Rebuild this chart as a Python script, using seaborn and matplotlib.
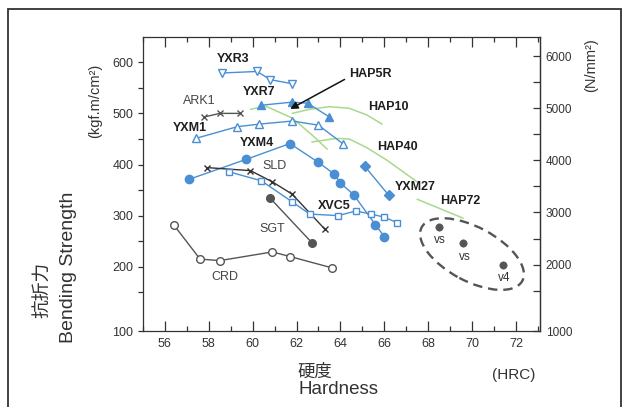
"""Bending strength vs hardness chart."""

import matplotlib
matplotlib.use("Agg")
import matplotlib.pyplot as plt
import matplotlib.transforms as mtransforms
from matplotlib.patches import Ellipse, Rectangle
from matplotlib.ticker import FixedLocator, MultipleLocator
import pandas as pd
import seaborn as sns

sns.set_theme(style="ticks")
plt.rcParams["font.family"] = ["Liberation Sans", "Noto Sans CJK JP", "DejaVu Sans"]

BLUE = "#4a8fd4"
GRAY = "#555555"
GREEN = "#a9d98b"
DARK = "#1e1e1e"

# DATA  (HRC, kgf/mm2)
yxr3_x = [58.6, 60.2, 60.8, 61.8]
yxr3_y = [579, 582, 566, 558]
ark1_x = [57.8, 58.5, 59.4]
ark1_y = [493, 500, 500]
yxr7_x = [60.4, 61.8, 62.5, 63.5]
yxr7_y = [516, 522, 520, 493]
yxm1_x = [57.4, 59.3, 60.3, 61.8, 63.0, 64.1]
yxm1_y = [451, 474, 479, 485, 477, 441]
yxm4_x = [57.1, 59.7, 61.7, 63.0, 63.7, 64.0, 64.6, 65.6, 66.0]
yxm4_y = [371, 410, 441, 404, 382, 364, 341, 282, 259]
sld_x = [57.9, 59.9, 60.9, 61.8, 63.3]
sld_y = [394, 388, 366, 342, 273]
xvc5_x = [58.9, 60.4, 61.8, 62.6, 63.9, 64.7, 65.4, 66.0, 66.6]
xvc5_y = [386, 368, 327, 303, 300, 309, 303, 297, 286]
sgt_x = [60.8, 62.7]
sgt_y = [334, 247]
crd_x = [56.4, 57.6, 58.5, 60.9, 61.7, 63.6]
crd_y = [282, 215, 212, 229, 220, 198]
yxm27_x = [65.1, 66.2]
yxm27_y = [397, 340]
vs_x = [68.5, 69.6, 71.4]
vs_y = [278, 246, 203]
vs_names = ["vs", "vs", "v4"]

hap5r_x = [59.9, 60.6, 61.8, 62.1, 62.7, 63.4]
hap5r_y = [508, 514, 491, 480, 458, 430]
hap10_x = [61.8, 62.6, 63.5, 64.4, 65.2, 65.9]
hap10_y = [500, 508, 513, 510, 497, 479]
hap40_x = [62.7, 63.8, 64.4, 65.2, 66.1, 67.5]
hap40_y = [444, 451, 450, 433, 409, 366]
hap72_x = [67.5, 69.6]
hap72_y = [332, 295]

# label name, x, y, bold
labels = [
    ("YXR3", 59.1, 606, True),
    ("YXR7", 60.3, 541, True),
    ("ARK1", 57.55, 524, False),
    ("YXM1", 57.15, 472, True),
    ("YXM4", 60.2, 442, True),
    ("SLD", 61.0, 397, False),
    ("HAP10", 66.2, 512, True),
    ("HAP40", 66.6, 434, True),
    ("YXM27", 67.4, 356, True),
    ("HAP72", 69.45, 328, True),
    ("XVC5", 63.7, 319, True),
    ("SGT", 60.9, 273, False),
    ("CRD", 58.75, 180, False),
]

YMIN, YMAX = 74.3, 650
XMIN, XMAX = 55, 73.1
N_PER_KGF = 9.8

fig = plt.figure(figsize=(6.26, 4.07), dpi=100)
ax = fig.add_axes([143 / 626, 1 - 331 / 407, (540 - 143) / 626, (331 - 36.7) / 407])


def draw(x, y, color, marker=None, filled=True, ms=6, lw=1.0):
    df = pd.DataFrame({"HRC": x, "strength": y})
    kw = {}
    if marker is not None:
        kw = dict(marker=marker, markersize=ms, markeredgecolor=color,
                  markerfacecolor=color if filled else "white", markeredgewidth=1.0)
    sns.lineplot(data=df, x="HRC", y="strength", ax=ax, color=color, linewidth=lw,
                 sort=False, estimator=None, legend=False, **kw)


# green HAP curves first (behind)
for hx, hy in [(hap5r_x, hap5r_y), (hap10_x, hap10_y), (hap40_x, hap40_y), (hap72_x, hap72_y)]:
    draw(hx, hy, GREEN, lw=1.1)

draw(yxr3_x, yxr3_y, BLUE, "v", filled=False, ms=6)
draw(ark1_x, ark1_y, GRAY, "x", ms=5)
draw(yxr7_x, yxr7_y, BLUE, "^", ms=6)
draw(yxm1_x, yxm1_y, BLUE, "^", filled=False, ms=6)
draw(yxm4_x, yxm4_y, BLUE, "o", ms=6)
draw(sld_x, sld_y, "#333333", "x", ms=5)
draw(xvc5_x, xvc5_y, BLUE, "s", filled=False, ms=5)
draw(sgt_x, sgt_y, GRAY, "o", ms=5.5)
draw(crd_x, crd_y, GRAY, "o", filled=False, ms=5.5)
draw(yxm27_x, yxm27_y, BLUE, "D", ms=5.5)

sns.scatterplot(x=vs_x, y=vs_y, ax=ax, color=GRAY, s=28, edgecolor=GRAY, legend=False, zorder=3)
for vx, vy, name in zip(vs_x, vs_y, vs_names):
    ax.text(vx + 0.05, vy - 26, name, fontsize=8.5, color="#333333", ha="center", va="center")

# dashed ellipse round the vs group
ell_trans = fig.dpi_scale_trans + mtransforms.ScaledTranslation(70.0, 224.8, ax.transData)
ax.add_patch(Ellipse((0, 0), width=1.14, height=0.54, angle=-28, transform=ell_trans,
                     fill=False, ec=GRAY, lw=1.7, ls=(0, (4, 2.5))))

for name, lx, ly, bold in labels:
    ax.text(lx, ly, name, fontsize=9, ha="center", va="center",
            fontweight="bold" if bold else "normal",
            color=DARK if bold else "#444444")

# HAP5R arrow
ax.annotate("", xy=(61.6, 506), xytext=(64.3, 569),
            arrowprops=dict(arrowstyle="-|>", color="#111111", lw=1.1, mutation_scale=11))
ax.text(64.4, 578, "HAP5R", fontsize=9, fontweight="bold", color=DARK, ha="left", va="center")

# AXES
ax.set_xlim(XMIN, XMAX)
ax.set_ylim(YMIN, YMAX)
ax.set_xlabel("")
ax.set_ylabel("")
ax.xaxis.set_major_locator(MultipleLocator(2))
ax.xaxis.set_minor_locator(MultipleLocator(1))
ax.tick_params(axis="x", which="both", direction="in", top=True, colors="#333333",
               labelsize=9, width=0.9)
ax.tick_params(axis="x", which="major", length=7, pad=5)
ax.tick_params(axis="x", which="minor", length=3.5)

ax.yaxis.set_major_locator(FixedLocator([YMIN, 200, 300, 400, 500, 600]))
ax.set_yticklabels(["100", "200", "300", "400", "500", "600"])
ax.yaxis.set_minor_locator(FixedLocator([150, 250, 350, 450, 550]))
ax.tick_params(axis="y", which="both", direction="out", length=3.5, width=0.9,
               colors="#333333", labelsize=9, right=False)

sec = ax.secondary_yaxis("right", functions=(lambda v: v * N_PER_KGF, lambda v: v / N_PER_KGF))
sec.yaxis.set_major_locator(FixedLocator([YMIN * N_PER_KGF, 2000, 3000, 4000, 5000, 6000]))
sec.set_yticklabels(["1000", "2000", "3000", "4000", "5000", "6000"])
sec.yaxis.set_minor_locator(FixedLocator([1500, 2500, 3500, 4500, 5500]))
sec.tick_params(which="both", direction="in", length=5, width=0.9, colors="#333333",
                labelsize=8.5, pad=4)

for sp in list(ax.spines.values()) + list(sec.spines.values()):
    sp.set_color("#333333")
    sp.set_linewidth(0.9)

# AXIS TITLES
def ftext(px, py, s, **kw):
    fig.text(px / 626, 1 - py / 407, s, color="#333333", **kw)


ftext(43, 289.5, "抗折力", fontsize=13.5, rotation=90, ha="center", va="center")
ftext(68.5, 267, "Bending Strength", fontsize=14, rotation=90, ha="center", va="center")
ftext(95, 101, "(kgf.m/cm²)", fontsize=10.5, rotation=90, ha="center", va="center")
ftext(591, 65, "(N/mm²)", fontsize=10.5, rotation=90, ha="center", va="center")
ftext(297, 371.5, "硬度", fontsize=12.5, ha="left", va="center")
ftext(298, 390, "Hardness", fontsize=13.5, ha="left", va="center")
ftext(492, 375, "(HRC)", fontsize=11, ha="left", va="center")

# outer frame
fig.patches.append(Rectangle((8 / 626, -0.05), (621 - 8) / 626, 1.05 - 9 / 407,
                             transform=fig.transFigure, fill=False, ec="#333333", lw=1.3))

plt.savefig("out.png", dpi=100)
